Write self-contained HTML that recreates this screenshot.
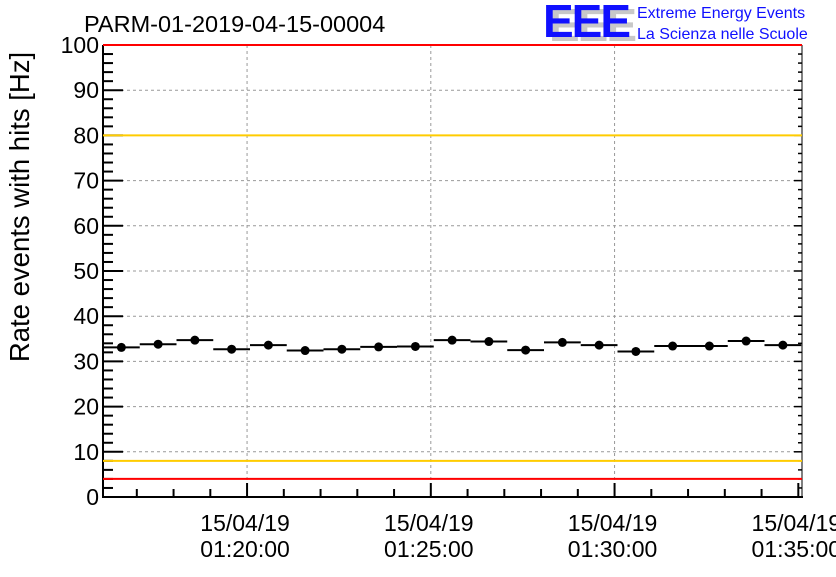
<!DOCTYPE html>
<html><head><meta charset="utf-8"><style>
body{margin:0;background:#fff;width:836px;height:572px;overflow:hidden}
svg text{font-family:"Liberation Sans",sans-serif}
</style></head><body>
<svg id="chart" width="836" height="572" viewBox="0 0 836 572" xmlns="http://www.w3.org/2000/svg">
<rect width="836" height="572" fill="#fff"/>
<text x="84" y="32" font-size="23.5" fill="#000">PARM-01-2019-04-15-00004</text>
<g>
<text x="549" y="41" font-size="46" font-weight="bold" fill="#c8c8c8" letter-spacing="-2">EEE</text>
<text x="543" y="37" font-size="46" font-weight="bold" fill="#1010ff" letter-spacing="-2">EEE</text>
<text x="637" y="18" font-size="16" fill="#1010ff">Extreme Energy Events</text>
<text x="637" y="39" font-size="16" fill="#1010ff">La Scienza nelle Scuole</text>
</g>
<text transform="translate(29,207) rotate(-90)" text-anchor="middle" font-size="27.5" fill="#000">Rate events with hits [Hz]</text>
<g id="grid"></g><g id="axes"></g><g id="marks"></g>
</svg>
<script>
const yTicks=[0,10,20,30,40,50,60,70,80,90,100];
const xTickLabelsDate=["15/04/19","15/04/19","15/04/19","15/04/19"];
const xTickLabelsTime=["01:20:00","01:25:00","01:30:00","01:35:00"];
const xTickMinutes=[20,25,30,35];
const rates=[33.1,33.8,34.7,32.7,33.6,32.4,32.7,33.2,33.3,34.7,34.4,32.5,34.2,33.6,32.2,33.4,33.4,34.5,33.6];
const redLimits=[4,100];
const orangeLimits=[8,80];
const startMinute=16.08, binMinutes=1;
const L=103,R=802,T=45,B=497;
const yS=v=>B-(v/100)*(B-T);
const pxPerMin=36.75;
const xS=m=>L+(m-startMinute)*pxPerMin;
const NS="http://www.w3.org/2000/svg";
function mk(tag,attrs,parent){const e=document.createElementNS(NS,tag);for(const k in attrs)e.setAttribute(k,attrs[k]);document.getElementById(parent).appendChild(e);return e;}
yTicks.forEach(v=>{if(v>0&&v<100){const g=mk('line',{x1:L,x2:R,y1:yS(v),y2:yS(v),stroke:'#999','stroke-dasharray':'3,3','stroke-width':1},'grid');

}});
xTickMinutes.forEach(m=>{const x=xS(m);if(x<R-5){const g=mk('line',{x1:x,x2:x,y1:T,y2:B,stroke:'#999','stroke-dasharray':'3,3','stroke-width':1},'grid');

}});
mk('line',{x1:L,x2:L,y1:T,y2:B+1,stroke:'#000','stroke-width':2},'axes');
mk('line',{x1:L-1,x2:R+1,y1:B,y2:B,stroke:'#000','stroke-width':2},'axes');
mk('line',{x1:R,x2:R,y1:T,y2:B,stroke:'#000','stroke-width':1},'axes');
for(let v=0;v<=100;v+=2){const major=v%10===0;const len=major?20:10;
mk('line',{x1:L,x2:L+len,y1:yS(v),y2:yS(v),stroke:'#000','stroke-width':2},'axes');
mk('line',{x1:R-(major?8:4),x2:R,y1:yS(v),y2:yS(v),stroke:'#000','stroke-width':1.5},'axes');}
yTicks.forEach(v=>{const t=mk('text',{x:L-4,y:yS(v)+8,'text-anchor':'end','font-size':23,fill:'#000'},'axes');t.textContent=v;

});
for(let m=17;m<=35;m++){const x=xS(m);const major=m%5===0;
mk('line',{x1:x,x2:x,y1:B,y2:B-(major?14:8),stroke:'#000','stroke-width':2},'axes');}
xTickMinutes.forEach((m,i)=>{const x=xS(m);
const a=mk('text',{x:x-2,y:531,'text-anchor':'middle','font-size':23,fill:'#000'},'axes');a.textContent=xTickLabelsDate[i];


const b=mk('text',{x:x-2,y:557,'text-anchor':'middle','font-size':23,fill:'#000'},'axes');b.textContent=xTickLabelsTime[i];

});
orangeLimits.forEach(v=>{const l=mk('line',{x1:L,x2:R,y1:yS(v),y2:yS(v),stroke:'#ffcc00','stroke-width':2},'marks');

});
redLimits.forEach(v=>{const l=mk('line',{x1:L,x2:R,y1:yS(v),y2:yS(v),stroke:'#ff0000','stroke-width':2},'marks');

});
rates.forEach((v,i)=>{const x0=xS(startMinute+i*binMinutes),x1=xS(startMinute+(i+1)*binMinutes),y=yS(v);
const l=mk('line',{x1:x0,x2:x1,y1:y,y2:y,stroke:'#000','stroke-width':2},'marks');


const c=mk('circle',{cx:(x0+x1)/2,cy:y,r:4.5,fill:'#000'},'marks');

});
</script>
</body></html>
